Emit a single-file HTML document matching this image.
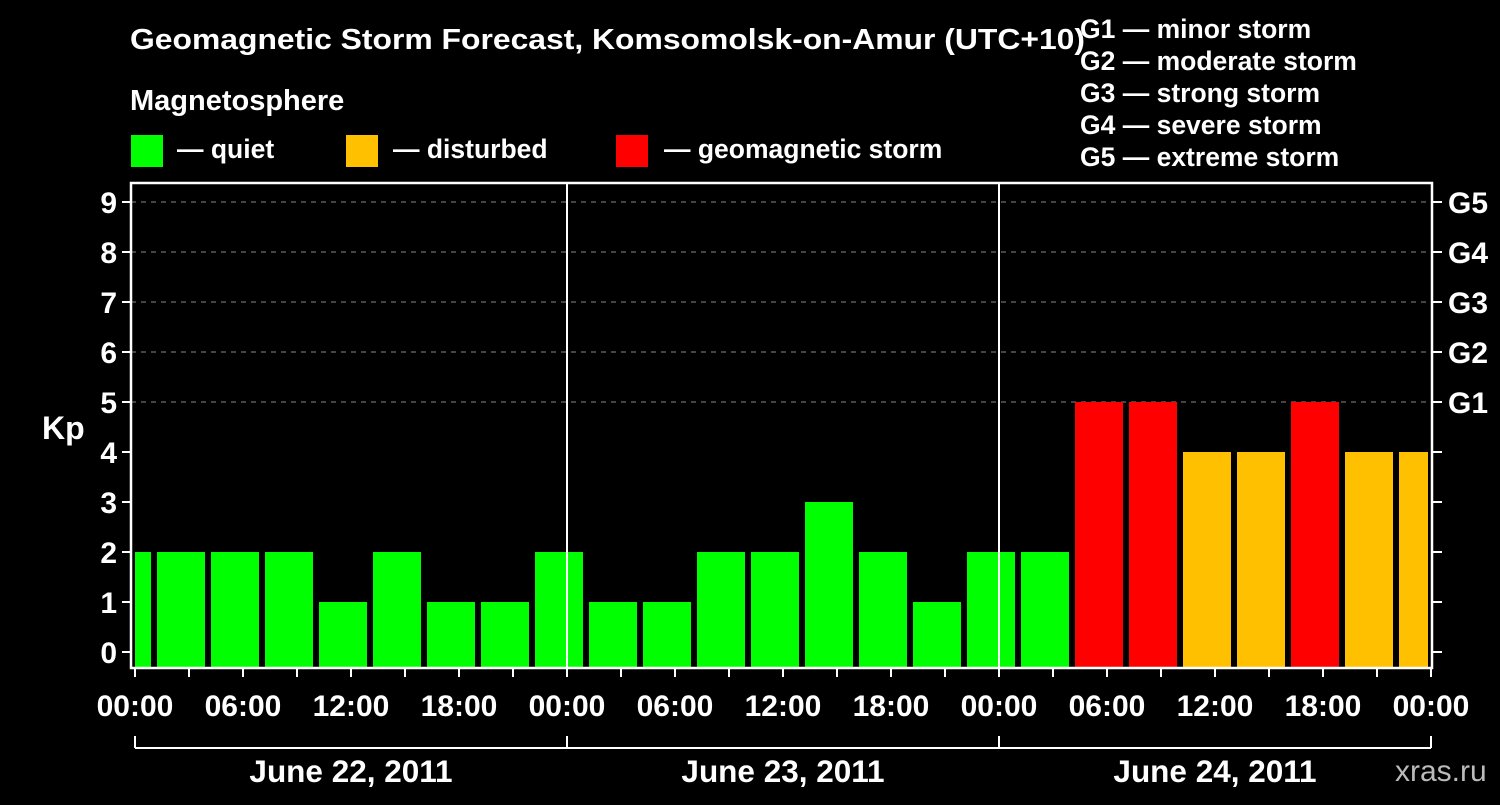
<!DOCTYPE html>
<html><head><meta charset="utf-8"><style>
body{margin:0;background:#000;}
svg text{font-family:"Liberation Sans",sans-serif;font-weight:bold;fill:#fff;}
</style></head><body>
<svg id="c" width="1500" height="800">
<text x="130" y="49" font-size="29" textLength="955" lengthAdjust="spacingAndGlyphs">Geomagnetic Storm Forecast, Komsomolsk-on-Amur (UTC+10)</text>
<text x="130" y="110" font-size="29">Magnetosphere</text>
<g><rect x="131" y="135" width="32" height="32" fill="#00ff00"/><text x="177" y="158" font-size="26.5">— quiet</text></g>
<g><rect x="346" y="135" width="32" height="32" fill="#ffc000"/><text x="393" y="158" font-size="26.5">— disturbed</text></g>
<g><rect x="616" y="135" width="32" height="32" fill="#ff0000"/><text x="664" y="158" font-size="26.5">— geomagnetic storm</text></g>
<g font-size="26.5">
<text x="1080" y="38">G1 — minor storm</text>
<text x="1080" y="70">G2 — moderate storm</text>
<text x="1080" y="102">G3 — strong storm</text>
<text x="1080" y="134">G4 — severe storm</text>
<text x="1080" y="166">G5 — extreme storm</text>
</g>
<text x="42" y="439" font-size="32">Kp</text>
<text x="1395" y="781" font-size="30" style="fill:#bbb;font-weight:normal">xras.ru</text>
<g id="g"></g>
</svg>
<script>
const kpValues=[2,2,2,2,1,2,1,1,2,1,1,2,2,3,2,1,2,2,5,5,4,4,5,4,4];
const barStartHour=-32/18;
const dayLabels=["June 22, 2011","June 23, 2011","June 24, 2011"];
const yTicks=[0,1,2,3,4,5,6,7,8,9];
const gLabels=["G1","G2","G3","G4","G5"];
const timeLabels=["00:00","06:00","12:00","18:00"];
const X0=135,PXH=18,L=131,R=1432,T=183,B=668;
const y=v=>652-50*v, x=h=>X0+PXH*h;
const g=document.getElementById('g'),NS='http://www.w3.org/2000/svg';
function mk(t,a,name,txt){const e=document.createElementNS(NS,t);for(const k in a)e.setAttribute(k,a[k]);


if(txt!==undefined)e.textContent=txt;g.appendChild(e);return e;}
const cp=document.createElementNS(NS,'clipPath');cp.id='clip';const cr=document.createElementNS(NS,'rect');
cr.setAttribute('x',L+4);cr.setAttribute('y',T);cr.setAttribute('width',R-L-8);cr.setAttribute('height',B-T);cp.appendChild(cr);g.appendChild(cp);
yTicks.forEach(v=>{
 if(v>=5)mk('line',{x1:L,x2:R,y1:y(v),y2:y(v),stroke:'#888','stroke-dasharray':'5,5','stroke-width':1},'gridline');
 mk('line',{x1:L-9,x2:L,y1:y(v),y2:y(v),stroke:'#fff','stroke-width':2},'y-tick');
 mk('line',{x1:R,x2:R+10,y1:y(v),y2:y(v),stroke:'#fff','stroke-width':2},'y-tick-right');
 mk('text',{x:L-14,y:y(v)+11,'font-size':30,'text-anchor':'end'},'y-tick-label',String(v));
});
gLabels.forEach((s,i)=>mk('text',{x:1448,y:y(5+i)+11,'font-size':30},'g-level-label',s));
kpValues.forEach((v,i)=>{
 const c=v>=5?'#ff0000':v>=4?'#ffc000':'#00ff00';
 const h0=barStartHour+3*i;
 mk('rect',{x:x(h0),y:y(v),width:48,height:B-y(v),fill:c,'clip-path':'url(#clip)'},'kp-bar');
});
[1,2].forEach(d=>mk('line',{x1:x(24*d),x2:x(24*d),y1:T,y2:B,stroke:'#fff','stroke-width':2},'day-divider'));
mk('rect',{x:L,y:T,width:R-L,height:B-T,fill:'none',stroke:'#fff','stroke-width':2.5},'plot-frame');
for(let h=0;h<=72;h+=3){
 mk('line',{x1:x(h),x2:x(h),y1:B,y2:B+9,stroke:'#fff','stroke-width':2},'x-tick');
 if(h%6===0)mk('text',{x:x(h),y:716,'font-size':30,'text-anchor':'middle'},'x-tick-label',timeLabels[(h/6)%4]);
}
mk('line',{x1:x(0),x2:x(72),y1:748,y2:748,stroke:'#fff','stroke-width':2},'date-bracket');
for(let d=0;d<=3;d++)mk('line',{x1:x(24*d),x2:x(24*d),y1:736,y2:748,stroke:'#fff','stroke-width':2},'date-bracket-tick');
dayLabels.forEach((s,d)=>mk('text',{x:x(24*d+12),y:782,'font-size':31.5,'text-anchor':'middle'},'date-label',s));
</script>
</body></html>
